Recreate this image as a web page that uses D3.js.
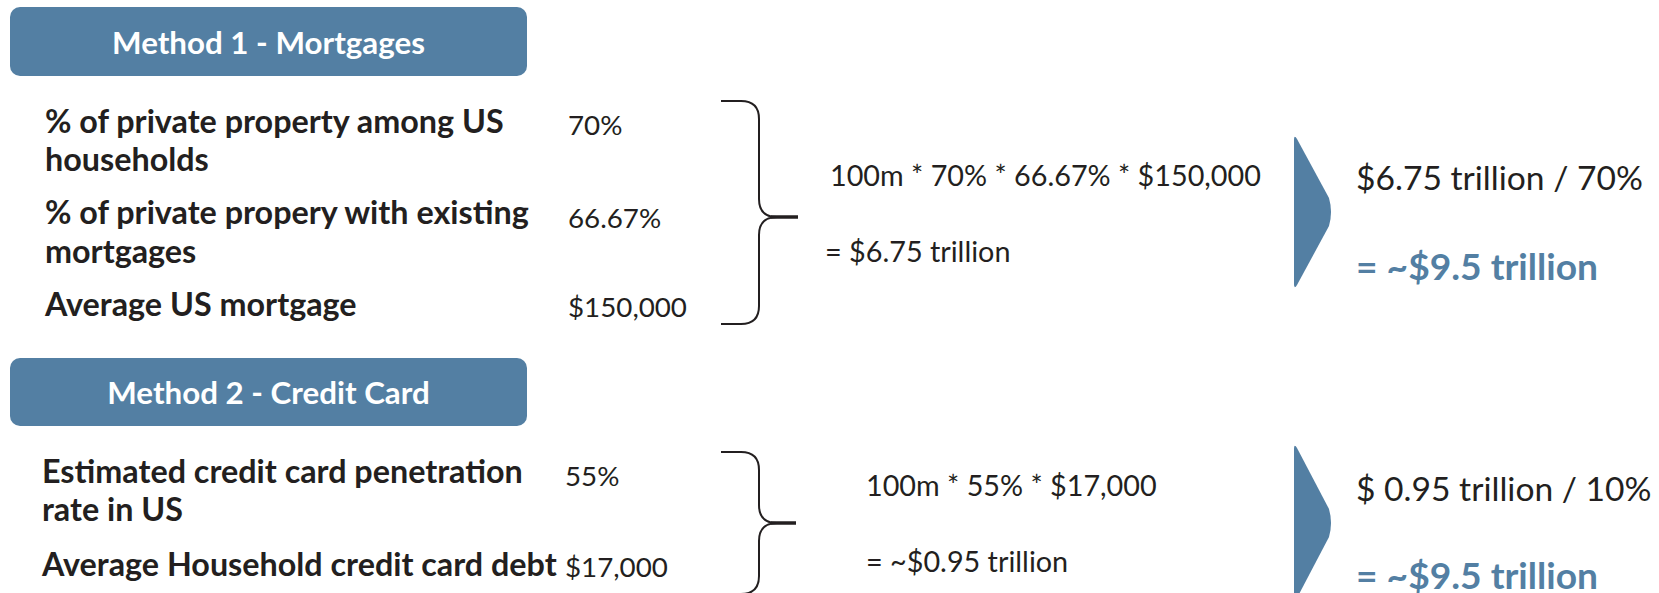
<!DOCTYPE html>
<html><head><meta charset="utf-8">
<script src="https://cdn.jsdelivr.net/npm/d3@7/dist/d3.min.js"></script>
<style>html,body{margin:0;padding:0;background:#fff;overflow:hidden}</style>
</head><body><svg id="c" width="1659" height="593"></svg>
<script>
// ---- data ----
const titles = ["Method 1 - Mortgages", "Method 2 - Credit Card"];
const m1Labels = [["% of private property among US", "households"], ["% of private propery with existing", "mortgages"], ["Average US mortgage"]];
const m1Values = ["70%", "66.67%", "$150,000"];
const m1Formula = ["100m * 70% * 66.67% * $150,000", "= $6.75 trillion"];
const m1Result = ["$6.75 trillion / 70%", "= ~$9.5 trillion"];
const m2Labels = [["Estimated credit card penetration", "rate in US"], ["Average Household credit card debt"]];
const m2Values = ["55%", "$17,000"];
const m2Formula = ["100m * 55% * $17,000", "= ~$0.95 trillion"];
const m2Result = ["$ 0.95 trillion / 10%", "= ~$9.5 trillion"];

// ---- style / layout ----
const BLUE = "#537fa3", INK = "#231f20";
const FONT = "Lato, 'Open Sans', sans-serif";
const sections = [
  {title: titles[0], labels: m1Labels, values: m1Values, formula: m1Formula, result: m1Result,
   boxY: 7, boxH: 69, titleBase: 54, labelX: 45, labelBase: [[133, 171], [224, 263], [316]],
   valueX: 568, valueBase: [135, 228, 317],
   brace: {x0: 721, xv: 759, xp: 798, top: 101, mid: 217, bottom: 324},
   formulaX: [830, 825], formulaBase: [186, 262],
   chev: {x0: 1294, x1: 1332, top: 136, bottom: 288},
   resultX: 1356, resultBase: [190, 280]},
  {title: titles[1], labels: m2Labels, values: m2Values, formula: m2Formula, result: m2Result,
   boxY: 358, boxH: 68, titleBase: 404, labelX: 42, labelBase: [[483, 521], [576]],
   valueX: 565, valueBase: [486, 577],
   brace: {x0: 721, xv: 759, xp: 796, top: 452, mid: 523, bottom: 594},
   formulaX: [866, 866], formulaBase: [496, 572],
   chev: {x0: 1294, x1: 1332, top: 445, bottom: 601},
   resultX: 1356, resultBase: [501, 589]}
];

const svg = d3.select("#c");

// font-size fitting helper: size so that `txt` in given weight has width `w`
const probe = svg.append("text").attr("font-family", FONT).attr("font-size", 100).attr("x", -5000).attr("y", -5000);
function fit(txt, weight, w) {
  probe.attr("font-weight", weight).text(txt);
  return 100 * w / probe.node().getComputedTextLength();
}
const fsTitle = fit(titles[0], 700, 313);
const fsLabel = fit(m1Labels[1][0], 700, 484);
const fsValue = fit(m1Values[2], 400, 119);
const fsFormula = fit(m1Formula[0], 400, 431);
const fsResult = fit(m1Result[0], 400, 287);
const fsResultB = fit(m1Result[1], 700, 242);
probe.remove();

const boxX = d3.scaleLinear().domain([0, 1]).range([10, 527]);

sections.forEach(s => {
  const g = svg.append("g");
  // header
  g.append("rect").attr("x", boxX(0)).attr("y", s.boxY).attr("width", boxX(1) - boxX(0)).attr("height", s.boxH)
    .attr("rx", 10).attr("fill", BLUE);
  g.append("text").attr("x", boxX(0.5)).attr("y", s.titleBase).attr("text-anchor", "middle")
    .attr("font-family", FONT).attr("font-weight", 700).attr("font-size", fsTitle).attr("fill", "#fff").text(s.title);
  // labels
  s.labels.forEach((lines, i) => {
    g.selectAll(null).data(lines).enter().append("text")
      .attr("x", s.labelX).attr("y", (d, j) => s.labelBase[i][j])
      .attr("font-family", FONT).attr("font-weight", 700).attr("font-size", fsLabel).attr("fill", INK).text(d => d);
  });
  // values
  g.selectAll(null).data(s.values).enter().append("text")
    .attr("x", s.valueX).attr("y", (d, i) => s.valueBase[i])
    .attr("font-family", FONT).attr("font-size", fsValue).attr("fill", INK).text(d => d);
  // brace
  const b = s.brace, r = 18;
  const p = d3.path();
  p.moveTo(b.x0, b.top); p.lineTo(b.xv - r, b.top); p.quadraticCurveTo(b.xv, b.top, b.xv, b.top + r);
  p.lineTo(b.xv, b.mid - r); p.quadraticCurveTo(b.xv, b.mid, b.xv + r, b.mid);
  p.quadraticCurveTo(b.xv, b.mid, b.xv, b.mid + r); p.lineTo(b.xv, b.bottom - r);
  p.quadraticCurveTo(b.xv, b.bottom, b.xv - r, b.bottom); p.lineTo(b.x0, b.bottom);
  g.append("path").attr("d", p.toString()).attr("fill", "none").attr("stroke", INK).attr("stroke-width", 2);
  g.append("line").attr("x1", b.xv + 12).attr("x2", b.xp).attr("y1", b.mid).attr("y2", b.mid)
    .attr("stroke", INK).attr("stroke-width", 3.5);
  // formula
  g.selectAll(null).data(s.formula).enter().append("text")
    .attr("x", (d, i) => s.formulaX[i]).attr("y", (d, i) => s.formulaBase[i])
    .attr("font-family", FONT).attr("font-size", fsFormula).attr("fill", INK).text(d => d);
  // chevron
  const c = s.chev, midY = (c.top + c.bottom) / 2;
  const cp = d3.path();
  cp.moveTo(c.x0, c.top + 4);
  cp.quadraticCurveTo(c.x0, c.top - 2, c.x0 + 3, c.top + 3);
  cp.lineTo(c.x1 - 3, midY - 14);
  cp.quadraticCurveTo(c.x1 + 1, midY, c.x1 - 3, midY + 14);
  cp.lineTo(c.x0 + 3, c.bottom - 3);
  cp.quadraticCurveTo(c.x0, c.bottom + 2, c.x0, c.bottom - 4);
  cp.closePath();
  g.append("path").attr("d", cp.toString()).attr("fill", BLUE);
  // result
  g.append("text").attr("x", s.resultX).attr("y", s.resultBase[0])
    .attr("font-family", FONT).attr("font-size", fsResult).attr("fill", INK).text(s.result[0]);
  g.append("text").attr("x", s.resultX).attr("y", s.resultBase[1])
    .attr("font-family", FONT).attr("font-weight", 700).attr("font-size", fsResultB).attr("fill", BLUE).text(s.result[1]);
});
</script></body></html>
